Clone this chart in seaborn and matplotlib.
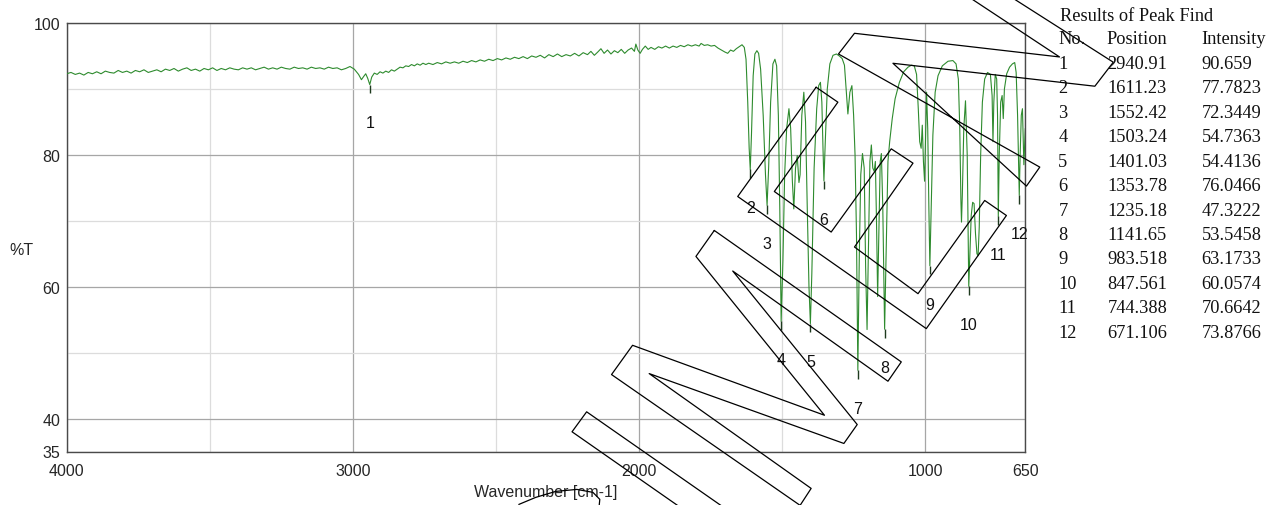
import matplotlib
matplotlib.use("Agg")
import matplotlib.pyplot as plt
import seaborn as sns
import pandas as pd
from matplotlib.ticker import FixedLocator

# ---------------- data ----------------
# (wavenumber cm-1, %T) points along the recorded spectrum
spectrum = [
    (4000, 92.3), (3985, 92.5), (3970, 92.2), (3955, 92.4), (3940, 92.1), (3925, 92.5),
    (3910, 92.3), (3895, 92.6), (3880, 92.3), (3865, 92.7), (3850, 92.5), (3835, 92.4),
    (3820, 92.8), (3805, 92.5), (3790, 92.7), (3775, 92.4), (3760, 92.8), (3745, 92.6),
    (3730, 92.9), (3715, 92.5), (3700, 92.7), (3685, 92.9), (3670, 92.6), (3655, 93.0),
    (3640, 92.8), (3625, 93.1), (3610, 92.7), (3595, 93.0), (3580, 93.2), (3565, 92.8),
    (3550, 93.0), (3535, 92.7), (3520, 93.1), (3505, 92.9), (3490, 93.2), (3475, 92.8),
    (3460, 93.1), (3445, 92.9), (3430, 93.2), (3415, 93.0), (3400, 92.9), (3385, 93.2),
    (3370, 93.0), (3355, 93.2), (3340, 92.9), (3325, 93.1), (3310, 93.3), (3295, 93.0),
    (3280, 93.2), (3265, 93.0), (3250, 93.3), (3235, 93.1), (3220, 93.0), (3205, 93.3),
    (3190, 93.1), (3175, 93.2), (3160, 93.0), (3145, 93.3), (3130, 93.1), (3115, 93.2),
    (3100, 93.0), (3085, 93.3), (3070, 93.1), (3055, 93.2), (3040, 92.9), (3025, 93.1),
    (3010, 93.4), (2995, 93.0), (2980, 92.2), (2970, 91.4), (2962, 91.9), (2955, 92.3),
    (2948, 91.6), (2940.91, 90.66), (2934, 91.8), (2925, 92.4), (2915, 92.2), (2905, 92.6),
    (2895, 92.4), (2885, 92.7), (2875, 92.5), (2865, 92.9), (2855, 92.7), (2845, 93.0),
    (2835, 93.3), (2825, 93.2), (2815, 93.5), (2805, 93.4), (2795, 93.7), (2785, 93.5),
    (2775, 93.8), (2765, 93.6), (2755, 93.9), (2745, 93.7), (2735, 93.9), (2720, 93.7),
    (2705, 94.0), (2690, 93.8), (2675, 94.1), (2660, 93.9), (2645, 94.1), (2630, 93.9),
    (2615, 94.2), (2600, 94.0), (2585, 94.3), (2570, 94.1), (2555, 94.4), (2540, 94.2),
    (2525, 94.5), (2510, 94.3), (2495, 94.6), (2480, 94.4), (2465, 94.7), (2450, 94.5),
    (2435, 94.8), (2420, 94.6), (2405, 94.9), (2390, 94.6), (2375, 95.0), (2360, 94.8),
    (2345, 95.1), (2330, 94.7), (2315, 95.2), (2300, 94.9), (2285, 95.3), (2270, 94.9),
    (2255, 95.2), (2240, 95.0), (2225, 95.4), (2210, 95.0), (2195, 95.5), (2180, 95.2),
    (2168, 95.7), (2156, 95.1), (2144, 95.6), (2133, 96.1), (2122, 95.4), (2110, 95.9),
    (2098, 95.3), (2086, 95.8), (2074, 95.5), (2062, 96.0), (2050, 95.4), (2038, 95.9),
    (2026, 96.2), (2016, 95.7), (2011, 96.8), (2004, 95.9), (1996, 95.4), (1988, 96.0),
    (1978, 96.5), (1968, 96.0), (1958, 96.3), (1945, 96.0), (1932, 96.4), (1920, 96.2),
    (1907, 96.5), (1894, 96.2), (1881, 96.5), (1868, 96.3), (1855, 96.6), (1842, 96.4),
    (1829, 96.7), (1816, 96.5), (1803, 96.7), (1790, 96.5), (1783, 96.9), (1772, 96.6),
    (1760, 96.7), (1748, 96.5), (1736, 96.6), (1724, 96.2), (1712, 95.9), (1700, 95.6),
    (1690, 95.4), (1680, 95.9), (1670, 95.7), (1660, 96.1), (1650, 96.4), (1640, 96.7),
    (1632, 96.3),
    (1626, 94.5), (1620, 88.0), (1615, 81.0), (1611.23, 77.78), (1607, 83.0), (1601, 92.0),
    (1595, 95.3), (1588, 95.8), (1582, 95.4), (1575, 93.0), (1566, 86.0), (1558, 77.0),
    (1552.42, 72.34), (1547, 78.0), (1540, 88.0), (1532, 93.8), (1525, 94.5), (1519, 93.5),
    (1513, 86.0), (1508, 72.0), (1503.24, 54.74), (1497, 64.0), (1491, 77.0), (1484, 84.0),
    (1476, 87.0), (1470, 84.0), (1464, 76.0), (1459, 71.8), (1453, 78.0), (1447, 79.9),
    (1441, 75.8), (1437, 77.0), (1431, 86.0), (1424, 89.5), (1418, 85.0), (1412, 72.0),
    (1406, 60.0), (1401.03, 54.41), (1396, 62.0), (1388, 78.0), (1379, 87.0), (1372, 90.5),
    (1366, 91.0), (1361, 88.0), (1357, 81.0), (1353.78, 76.05), (1349, 82.0), (1342, 90.0),
    (1333, 93.8), (1322, 95.1), (1310, 95.3), (1300, 95.0), (1290, 94.6), (1282, 93.6),
    (1276, 90.0), (1270, 86.2), (1263, 89.5), (1256, 90.5), (1250, 86.0), (1245, 80.0),
    (1240, 68.0), (1235.18, 47.32), (1230, 65.0), (1225, 77.0), (1219, 80.2), (1213, 78.0),
    (1208, 63.0), (1203, 53.5), (1198, 66.0), (1193, 79.0), (1188, 81.5), (1183, 78.0),
    (1178, 77.5), (1174, 79.0), (1170, 70.0), (1166, 58.5), (1161, 70.0), (1157, 79.0),
    (1153, 80.2), (1148, 72.0), (1141.65, 53.55), (1136, 66.0), (1130, 79.0), (1124, 82.0),
    (1115, 85.5), (1105, 88.5), (1090, 91.0), (1075, 92.6), (1060, 93.3), (1048, 93.6),
    (1038, 93.5), (1030, 92.2), (1024, 87.0), (1019, 82.0), (1014, 81.0), (1010, 84.5),
    (1006, 79.0), (1002, 76.0), (998, 84.0), (995, 89.5), (991, 84.0), (987, 72.0),
    (983.518, 63.17), (979, 72.0), (973, 83.0), (965, 89.5), (955, 92.0), (940, 93.5),
    (920, 94.2), (903, 94.3), (892, 93.8), (884, 91.5), (879, 84.0), (875, 73.0),
    (873, 69.8), (870, 74.0), (865, 84.0), (859, 88.2), (853, 80.0), (847.561, 60.06),
    (843, 66.0), (839, 70.8), (834, 72.8), (829, 72.6), (824, 68.0), (819, 65.0),
    (815, 64.7), (811, 69.0), (806, 80.0), (800, 88.0), (792, 91.5), (782, 92.5),
    (772, 92.2), (766, 89.0), (763, 82.0), (760, 88.0), (755, 92.2), (750, 91.5),
    (747, 86.0), (744.388, 70.66), (741, 80.0), (736, 88.0), (731, 89.0), (727, 85.5),
    (723, 90.0), (715, 92.3), (705, 93.3), (695, 93.8), (687, 94.0), (682, 92.5),
    (677, 86.0), (673, 78.0), (671.106, 73.88), (668, 80.0), (664, 86.0), (660, 87.0),
    (657, 82.0), (655, 78.5), (652, 82.0), (650, 84.0),
]
wavenumber = [p[0] for p in spectrum]
transmittance = [p[1] for p in spectrum]

# peak table
peak_no = ["1", "2", "3", "4", "5", "6", "7", "8", "9", "10", "11", "12"]
peak_position = [2940.91, 1611.23, 1552.42, 1503.24, 1401.03, 1353.78,
                 1235.18, 1141.65, 983.518, 847.561, 744.388, 671.106]
peak_intensity = [90.659, 77.7823, 72.3449, 54.7363, 54.4136, 76.0466,
                  47.3222, 53.5458, 63.1733, 60.0574, 70.6642, 73.8766]
position_text = ["2940.91", "1611.23", "1552.42", "1503.24", "1401.03", "1353.78",
                 "1235.18", "1141.65", "983.518", "847.561", "744.388", "671.106"]
intensity_text = ["90.659", "77.7823", "72.3449", "54.7363", "54.4136", "76.0466",
                  "47.3222", "53.5458", "63.1733", "60.0574", "70.6642", "73.8766"]

x_ticks = [4000, 3000, 2000, 1000, 650]
x_minor = [3500, 2500, 1500]
y_ticks = [35, 40, 60, 80, 100]
y_minor = [50, 70, 90]

# watermark outlines (wavenumber, %T)
wm_s_wn = [863, 530.4, 1246.9, 1302.9, 599.4, 646, 1112.5, 406.9, 342.5, 716]
wm_s_t = [104.39, 94.85, 98.44, 95.30, 78.14, 75.26, 93.89, 90.41, 94.05, 104.39]
wm_e_wn = [1381, 1305, 1527, 1328.4, 1118.4, 1042.5, 1246.9, 1025, 791.9, 716, 996, 1655, 1381]
wm_e_t = [90.26, 87.99, 74.44, 68.29, 80.91, 78.74, 66.02, 58.94, 73.08, 70.80, 53.64, 73.68, 90.26]
wm_m_wn = [1736.9, 1083.4, 1130, 1672.5, 1237.4, 1284, 1964.4, 1398.4, 1437, 2096, 2022.5, 1351.9, 1801, 1736.9]
wm_m_t = [68.53, 48.59, 45.66, 62.38, 39.09, 36.22, 46.82, 29.40, 26.83, 46.67, 51.11, 40.50, 64.59, 68.53]
wm_bar_wn = [1689, 2183, 2234, 1840.5]
wm_bar_t = [26.07, 41.02, 37.99, 26.07]
wm_arc_wn = [2420, 2361, 2291, 2217, 2161, 2137, 2140]
wm_arc_t = [26.97, 28.04, 28.95, 29.25, 28.80, 27.74, 26.40]

# ---------------- drawing ----------------
sns.set_style("white")
plt.rcParams["font.family"] = ["Liberation Sans", "DejaVu Sans"]

W, H = 1279, 506
fig = plt.figure(figsize=(W / 100, H / 100), dpi=100)
ax = fig.add_axes([66.7 / W, 53.5 / H, 958.6 / W, 428.5 / H])

df = pd.DataFrame({"Wavenumber": wavenumber, "T": transmittance})
sns.lineplot(data=df, x="Wavenumber", y="T", ax=ax, color="#2e8b2e",
             linewidth=0.8, sort=False, estimator=None, zorder=3)

# peak markers
ax.vlines(peak_position, [v - 1.3 for v in peak_intensity], peak_intensity,
          color="#1e3a1e", linewidth=1.0, zorder=4)

ax.set_xlim(4000, 650)
ax.set_ylim(35, 100)
ax.set_xticks(x_ticks)
ax.set_xticklabels([str(t) for t in x_ticks])
ax.set_yticks(y_ticks)
ax.set_yticklabels([str(t) for t in y_ticks])
ax.xaxis.set_minor_locator(FixedLocator(x_minor))
ax.yaxis.set_minor_locator(FixedLocator(y_minor))
ax.grid(which="major", color="#a6a6a6", linewidth=0.9)
ax.grid(which="minor", color="#dcdcdc", linewidth=0.9)
ax.set_axisbelow(True)

for s in ax.spines.values():
    s.set_color("#4a4a4a")
    s.set_linewidth(1.0)

ax.tick_params(axis="x", which="major", direction="in", length=10, width=1.0,
               color="#4a4a4a", pad=8, labelsize=11.5, top=False)
ax.tick_params(axis="x", which="minor", direction="in", length=6, width=1.0,
               color="#4a4a4a", top=False)
ax.tick_params(axis="y", which="major", direction="inout", length=8, width=1.0,
               color="#4a4a4a", pad=0.5, labelsize=11.5, right=False)
ax.tick_params(axis="y", which="minor", length=0)

ax.set_xlabel("Wavenumber [cm-1]", fontsize=11.5)
ax.xaxis.set_label_coords(0.5, -0.0944)
ax.xaxis.label.set_va("center")
ax.set_ylabel("%T", fontsize=11.5, rotation=0)
ax.yaxis.set_label_coords(-0.0477, 0.472)
ax.yaxis.label.set_va("center")
ax.yaxis.label.set_ha("center")

# peak number labels
for n, p, v in zip(peak_no, peak_position, peak_intensity):
    ax.text(p, v - 5.8, n, ha="center", va="center", fontsize=11.5, color="#111111", zorder=6)

# watermark outlines
for xs, ys in [(wm_s_wn, wm_s_t), (wm_e_wn, wm_e_t), (wm_m_wn, wm_m_t),
               (wm_bar_wn, wm_bar_t), (wm_arc_wn, wm_arc_t)]:
    ax.plot(xs, ys, color="black", linewidth=0.9, clip_on=False, zorder=7)

# peak table
serif = ["Liberation Serif", "DejaVu Serif"]
tfs = 13.2
fig.text(1060 / W, 1 - 16.7 / H, "Results of Peak Find", family=serif, fontsize=tfs,
         ha="left", va="center", color="#111111")
for txt, xp in [("No.", 1058.3), ("Position", 1106.7), ("Intensity", 1201.7)]:
    fig.text(xp / W, 1 - 40.0 / H, txt, family=serif, fontsize=tfs,
             ha="left", va="center", color="#111111")
for i in range(len(peak_no)):
    yp = 1 - (64.3 + 24.45 * i) / H
    fig.text(1058.3 / W, yp, peak_no[i], family=serif, fontsize=tfs, ha="left", va="center", color="#111111")
    fig.text(1107.3 / W, yp, position_text[i], family=serif, fontsize=tfs, ha="left", va="center", color="#111111")
    fig.text(1201.7 / W, yp, intensity_text[i], family=serif, fontsize=tfs, ha="left", va="center", color="#111111")

fig.savefig("out.png", dpi=100)
